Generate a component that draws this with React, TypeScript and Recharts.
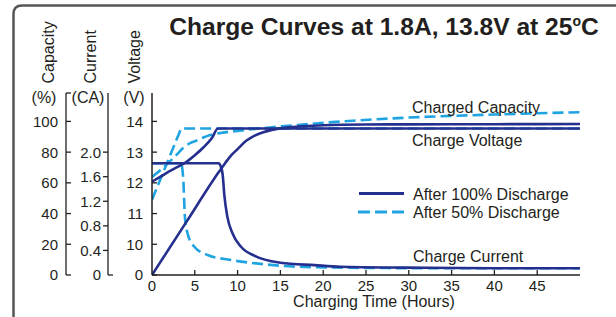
import { ComposedChart, Line, XAxis, YAxis } from 'recharts';

const INK = '#231f20';
const NAVY = '#252f8d';
const SKY = '#1fa4e1';
const FONT = '"Liberation Sans", Arial, sans-serif';

// axis ticks
const hourTicks = [0, 5, 10, 15, 20, 25, 30, 35, 40, 45];
const capTicks = [0, 20, 40, 60, 80, 100];
const curTicks = [0, 0.4, 0.8, 1.2, 1.6, 2.0];
const voltTicks = [9, 10, 11, 12, 13, 14]; // 9 is drawn as "0" (broken axis)

// capacity scale runs 0..100 over the lower part of the plot, the rest is headroom
const CAP_MAX = 118.5;
const CUR_MAX = CAP_MAX / 40;
const VOLT_MIN = 9;
const VOLT_MAX = VOLT_MIN + CAP_MAX / 20;

// after 100% discharge
const voltFullT = [0, 1, 2, 3, 4, 5, 6, 7, 7.7, 10, 20, 30, 40, 50];
const voltFullV = [12.04, 12.2, 12.37, 12.52, 12.68, 12.9, 13.15, 13.46, 13.77, 13.77, 13.77, 13.77, 13.77, 13.77];
const capFullT = [0, 4, 7.8, 8.5, 9.2, 10, 11, 12, 13, 14, 16, 18, 20, 25, 30, 40, 50];
const capFullV = [0, 34.4, 67, 72.5, 77.6, 82, 87.4, 90.8, 93, 94.5, 96.1, 97, 97.5, 98, 98.1, 98.2, 98.3];
const curFullT = [0, 7.8, 8.0, 8.25, 8.45, 8.8, 9.4, 10.4, 12, 15, 19, 22, 30, 40, 50];
const curFullV = [1.82, 1.82, 1.78, 1.64, 1.3, 0.95, 0.68, 0.46, 0.31, 0.2, 0.16, 0.135, 0.12, 0.11, 0.11];

// after 50% discharge
const voltHalfT = [0, 3.4, 50];
const voltHalfV = [11.45, 13.77, 13.77];
const capHalfT = [0, 1, 2, 3, 3.6, 4.5, 5.2, 6, 6.7, 8, 9, 11, 14, 17, 23, 30, 40, 50];
const capHalfV = [63.8, 68.3, 73.5, 79, 82.5, 86, 87.5, 89.5, 91, 92.5, 93.2, 94.5, 96.2, 97.7, 100.3, 102.5, 104.5, 106];
const curHalfT = [0, 3.4, 3.55, 3.68, 3.84, 4.15, 4.95, 6.5, 9.2, 13.1, 17, 25, 35, 50];
const curHalfV = [1.82, 1.82, 1.72, 1.49, 0.95, 0.68, 0.46, 0.325, 0.245, 0.175, 0.135, 0.115, 0.11, 0.11];

const zip = (t: number[], v: number[]) => t.map((h, i) => ({ h, v: v[i] }));

const txt = { fontFamily: FONT, fill: INK };

const HourTick = (p: any) => {
  const { x, y, payload } = p;
  return (
    <g>
      {payload.value > 0 && <line x1={x} x2={x} y1={y} y2={y - 5} stroke={INK} strokeWidth={1.3} />}
      <text x={x} y={y + 16} textAnchor="middle" fontSize={15} {...txt}>{payload.value}</text>
    </g>
  );
};

const CapTick = (p: any) => {
  const { x, y, payload } = p;
  const v = payload.value;
  return (
    <g>
      <line x1={x} x2={x + 5} y1={y} y2={y} stroke={INK} strokeWidth={1.3} />
      {v <= 100 && (
        <text x={x - 8} y={y + 5.4} textAnchor="end" fontSize={15} {...txt}>{v}</text>
      )}
    </g>
  );
};

const CurTick = (p: any) => {
  const { x, y, payload } = p;
  const v = payload.value;
  return (
    <g>
      <line x1={x} x2={v === 0 ? x + 5 : x - 5} y1={y} y2={y} stroke={INK} strokeWidth={1.3} />
      <text x={x - 7} y={y + 5.4} textAnchor="end" fontSize={15} {...txt}>{v === 0 ? '0' : v.toFixed(1)}</text>
    </g>
  );
};

const VoltTick = (p: any) => {
  const { x, y, payload } = p;
  const v = payload.value;
  return (
    <g>
      <line x1={x} x2={x + 5} y1={y} y2={y} stroke={INK} strokeWidth={1.3} />
      <text x={x - 9} y={y + 5.4} textAnchor="end" fontSize={15} {...txt}>{v === VOLT_MIN ? '0' : v}</text>
    </g>
  );
};

const RightTick = (p: any) => {
  const { x, y } = p;
  return <line x1={x - 5} x2={x} y1={y} y2={y} stroke={INK} strokeWidth={1.3} />;
};

export default function App() {
  return (
    <div style={{ position: 'absolute', left: 0, top: 0, width: 616, height: 317, background: '#fff' }}>
      <ComposedChart width={616} height={317} margin={{ top: 93, right: 36, bottom: 12, left: 0 }}>
        <XAxis
          xAxisId="h"
          dataKey="h"
          type="number"
          domain={[0, 50]}
          ticks={hourTicks}
          interval={0}
          allowDataOverflow
          height={30}
          tickSize={0}
          tickMargin={0}
          tick={HourTick}
          tickLine={false}
          axisLine={{ stroke: INK, strokeWidth: 1.5 }}
        />
        <XAxis xAxisId="top" orientation="top" type="number" domain={[0, 50]} height={0} tick={false} tickLine={false} axisLine={{ stroke: INK, strokeWidth: 1.5 }} />
        <YAxis
          yAxisId="a_volt"
          type="number"
          domain={[VOLT_MIN, VOLT_MAX]}
          ticks={voltTicks}
          interval={0}
          allowDataOverflow
          width={44}
          tickSize={0}
          tickMargin={0}
          tick={VoltTick}
          tickLine={false}
          axisLine={{ stroke: INK, strokeWidth: 1.5 }}
        />
        <YAxis
          yAxisId="b_cur"
          type="number"
          domain={[0, CUR_MAX]}
          ticks={curTicks}
          interval={0}
          allowDataOverflow
          width={42}
          tickSize={0}
          tickMargin={0}
          tick={CurTick}
          tickLine={false}
          axisLine={{ stroke: INK, strokeWidth: 1.3 }}
        />
        <YAxis
          yAxisId="c_cap"
          type="number"
          domain={[0, CAP_MAX]}
          ticks={[...capTicks, CAP_MAX]}
          interval={0}
          allowDataOverflow
          width={66}
          tickSize={0}
          tickMargin={0}
          tick={CapTick}
          tickLine={false}
          axisLine={{ stroke: INK, strokeWidth: 1.3 }}
        />
        <YAxis
          yAxisId="right"
          orientation="right"
          type="number"
          domain={[0, CAP_MAX]}
          ticks={[20, 40, 60, 80, 100]}
          interval={0}
          width={0}
          tickSize={0}
          tickMargin={0}
          tick={RightTick}
          tickLine={false}
          axisLine={{ stroke: INK, strokeWidth: 1.5 }}
        />

        <Line xAxisId="h" yAxisId="b_cur" data={zip(curHalfT, curHalfV)} dataKey="v" type="monotone" stroke={SKY} strokeWidth={2.6} strokeDasharray="11 5" dot={false} isAnimationActive={false} />
        <Line xAxisId="h" yAxisId="a_volt" data={zip(voltHalfT, voltHalfV)} dataKey="v" type="linear" stroke={SKY} strokeWidth={2.6} strokeDasharray="11 5" dot={false} isAnimationActive={false} />
        <Line xAxisId="h" yAxisId="c_cap" data={zip(capHalfT, capHalfV)} dataKey="v" type="monotone" stroke={SKY} strokeWidth={2.6} strokeDasharray="11 5" dot={false} isAnimationActive={false} />
        <Line xAxisId="h" yAxisId="b_cur" data={zip(curFullT, curFullV)} dataKey="v" type="monotone" stroke={NAVY} strokeWidth={2.6} dot={false} isAnimationActive={false} />
        <Line xAxisId="h" yAxisId="a_volt" data={zip(voltFullT, voltFullV)} dataKey="v" type="monotone" stroke={NAVY} strokeWidth={2.6} dot={false} isAnimationActive={false} />
        <Line xAxisId="h" yAxisId="c_cap" data={zip(capFullT, capFullV)} dataKey="v" type="monotone" stroke={NAVY} strokeWidth={2.6} dot={false} isAnimationActive={false} />
      </ComposedChart>

      <svg width={616} height={317} style={{ position: 'absolute', left: 0, top: 0, pointerEvents: 'none' }}>
        <path d="M 13.5 317 L 13.5 14 Q 13.5 5.5 22 5.5 L 616 5.5" fill="none" stroke="#555" strokeWidth={2.5} />
        <text x={384} y={34.5} textAnchor="middle" fontSize={24.6} fontWeight="bold" {...txt}>
          Charge Curves at 1.8A, 13.8V at 25<tspan fontSize={14} dy={-9}>o</tspan><tspan dy={9}>C</tspan>
        </text>

        <text transform="translate(54,83.5) rotate(-90)" fontSize={16} {...txt}>Capacity</text>
        <text transform="translate(95.5,83.5) rotate(-90)" fontSize={16} {...txt}>Current</text>
        <text transform="translate(139.5,83.5) rotate(-90)" fontSize={16} {...txt}>Voltage</text>
        <text x={44} y={103} textAnchor="middle" fontSize={16} {...txt}>(%)</text>
        <text x={88} y={103} textAnchor="middle" fontSize={16} {...txt}>(CA)</text>
        <text x={134} y={103} textAnchor="middle" fontSize={16} {...txt}>(V)</text>

        <text x={412} y={112.5} fontSize={16} {...txt}>Charged Capacity</text>
        <text x={412} y={145.7} fontSize={16} {...txt}>Charge Voltage</text>
        <text x={413} y={262.3} fontSize={16} {...txt}>Charge Current</text>

        <line x1={359} x2={404} y1={193.6} y2={193.6} stroke={NAVY} strokeWidth={3} />
        <line x1={358} x2={404} y1={212} y2={212} stroke={SKY} strokeWidth={3} strokeDasharray="12 5" />
        <text x={413} y={200} fontSize={16} {...txt}>After 100% Discharge</text>
        <text x={413} y={218.3} fontSize={16} {...txt}>After 50% Discharge</text>

        <text x={374} y={307} textAnchor="middle" fontSize={16} {...txt}>Charging Time (Hours)</text>
      </svg>
    </div>
  );
}
